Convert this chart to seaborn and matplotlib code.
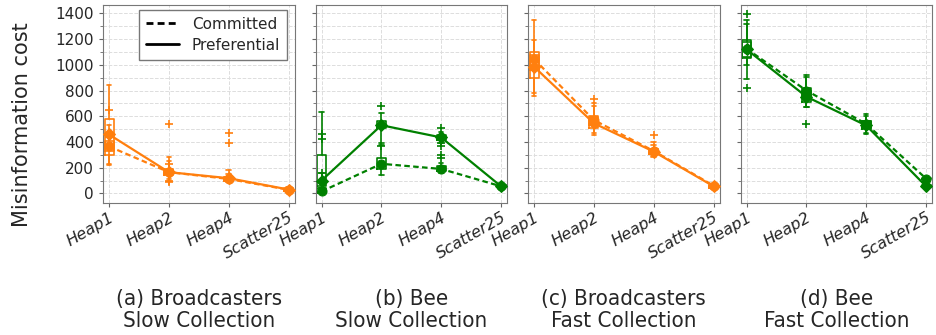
import matplotlib
matplotlib.use("Agg")
import matplotlib.pyplot as plt
from matplotlib.lines import Line2D
from matplotlib.ticker import MultipleLocator
import seaborn as sns
import pandas as pd

heaps = ["Heap1", "Heap2", "Heap4", "Scatter25"]
strategies = ["Committed", "Preferential"]
titles = ["(a) Broadcasters\nSlow Collection", "(b) Bee\nSlow Collection",
          "(c) Broadcasters\nFast Collection", "(d) Bee\nFast Collection"]
colors = ["#ff7f0e", "green", "#ff7f0e", "green"]

# mean cost per heap (line markers)
a_com = [365, 165, 112, 28]
a_pref = [458, 165, 118, 30]
b_com = [15, 230, 190, 55]
b_pref = [100, 530, 435, 55]
c_com = [1045, 570, 330, 60]
c_pref = [985, 545, 325, 55]
d_com = [1125, 800, 540, 115]
d_pref = [1120, 752, 528, 55]

# box stats per heap: (whislo, q1, med, q3, whishi)
a_com_box = [(220, 330, 370, 410, 535), (110, 140, 160, 185, 250), (90, 100, 112, 125, 150), (10, 20, 28, 35, 45)]
a_pref_box = [(230, 300, 440, 580, 840), (100, 150, 165, 190, 280), (95, 105, 118, 130, 180), (15, 22, 30, 38, 50)]
b_com_box = [(0, 5, 10, 40, 160), (140, 190, 230, 275, 380), (155, 175, 190, 210, 237), (40, 48, 55, 62, 70)]
b_pref_box = [(40, 57, 100, 296, 636), (390, 510, 530, 560, 625), (390, 415, 435, 455, 480), (40, 48, 55, 62, 70)]
c_com_box = [(780, 960, 1040, 1096, 1191), (470, 530, 570, 600, 700), (290, 310, 330, 345, 400), (40, 50, 60, 68, 75)]
c_pref_box = [(760, 895, 985, 1080, 1346), (455, 510, 545, 585, 680), (280, 305, 325, 345, 380), (35, 45, 55, 65, 75)]
d_com_box = [(998, 1060, 1125, 1180, 1320), (670, 740, 800, 817, 920), (462, 510, 540, 560, 616), (100, 108, 115, 122, 130)]
d_pref_box = [(887, 1050, 1120, 1196, 1350), (670, 714, 752, 800, 902), (470, 500, 528, 560, 600), (40, 48, 55, 62, 70)]

# outliers per heap
a_com_fl = [[650], [540, 230], [470, 390], []]
a_pref_fl = [[], [100, 90], [], []]
b_com_fl = [[], [366], [302, 276], []]
b_pref_fl = [[464, 425, 162], [680], [508, 392, 366], []]
c_com_fl = [[], [735], [456], []]
c_pref_fl = [[], [], [], []]
d_com_fl = [[1397], [], [], []]
d_pref_fl = [[817], [539], [], []]

panels = [
    (a_com, a_pref, a_com_box, a_pref_box, a_com_fl, a_pref_fl),
    (b_com, b_pref, b_com_box, b_pref_box, b_com_fl, b_pref_fl),
    (c_com, c_pref, c_com_box, c_pref_box, c_com_fl, c_pref_fl),
    (d_com, d_pref, d_com_box, d_pref_box, d_com_fl, d_pref_fl),
]


def box_stats(boxes, fliers):
    return [dict(whislo=b[0], q1=b[1], med=b[2], q3=b[3], whishi=b[4], fliers=f)
            for b, f in zip(boxes, fliers)]


sns.set_style("ticks")
plt.rcParams["font.family"] = ["DejaVu Sans"]

fig, axes = plt.subplots(1, 4, figsize=(9.37, 3.35), dpi=100, sharey=True)
fig.subplots_adjust(left=0.110, right=0.9947, top=0.985, bottom=0.394, wspace=0.11)

pos = list(range(len(heaps)))

for ax, (com, pref, com_box, pref_box, com_fl, pref_fl), col in zip(axes, panels, colors):
    props = dict(color=col, lw=1.2)
    for boxes, fl in [(com_box, com_fl), (pref_box, pref_fl)]:
        ax.bxp(box_stats(boxes, fl), positions=pos, widths=0.15, manage_ticks=False,
               boxprops=props, whiskerprops=props, capprops=props, medianprops=props,
               flierprops=dict(marker="+", markeredgecolor=col, markersize=6,
                               linestyle="none", markeredgewidth=1.2))

    df = pd.DataFrame({
        "pos": pos * 2,
        "cost": com + pref,
        "strategy": ["Committed"] * 4 + ["Preferential"] * 4,
    })
    sns.lineplot(data=df, x="pos", y="cost", style="strategy", style_order=strategies,
                 dashes={"Committed": (2.5, 1.5), "Preferential": ""},
                 markers={"Committed": "o", "Preferential": "D"},
                 color=col, lw=1.6, markersize=6.5, markeredgecolor=col,
                 legend=False, ax=ax, zorder=5)

    ax.set_xlim(-0.1, 3.1)
    ax.set_ylim(-75, 1465)
    ax.set_xticks(pos)
    ax.set_xticklabels(heaps, rotation=30, ha="right", rotation_mode="anchor",
                       fontstyle="italic", fontsize=11.5)
    ax.yaxis.set_major_locator(MultipleLocator(200))
    ax.yaxis.set_minor_locator(MultipleLocator(100))
    ax.grid(which="major", ls="--", color="#dddddd", lw=0.7)
    ax.grid(which="minor", axis="y", ls="--", color="#dddddd", lw=0.7)
    ax.set_axisbelow(True)
    ax.tick_params(axis="y", labelsize=11, length=3, color="#666666")
    ax.tick_params(axis="y", which="minor", length=2, color="#666666")
    ax.tick_params(axis="x", length=3, color="#666666", pad=2)
    ax.set_xlabel("")
    ax.set_ylabel("")
    for sp in ax.spines.values():
        sp.set_color("#777777")

handles = [Line2D([], [], color="black", lw=2, ls=(0, (2.5, 1.5))),
           Line2D([], [], color="black", lw=2, ls="-")]
leg = axes[0].legend(handles, strategies, loc="upper right", fontsize=11,
                     fancybox=False, framealpha=1, edgecolor="#777777",
                     handlelength=2.2, borderpad=0.45, labelspacing=0.4,
                     bbox_to_anchor=(1.0, 1.015))

fig.text(0.023, 0.627, "Misinformation cost", rotation=90, ha="center", va="center",
         fontsize=15)

for ax, title in zip(axes, titles):
    bb = ax.get_position()
    fig.text((bb.x0 + bb.x1) / 2, 1 - 310 / 335, title, ha="center", va="center",
             fontsize=16, fontstretch="condensed", linespacing=1.15)

fig.savefig("out.png", dpi=100)
